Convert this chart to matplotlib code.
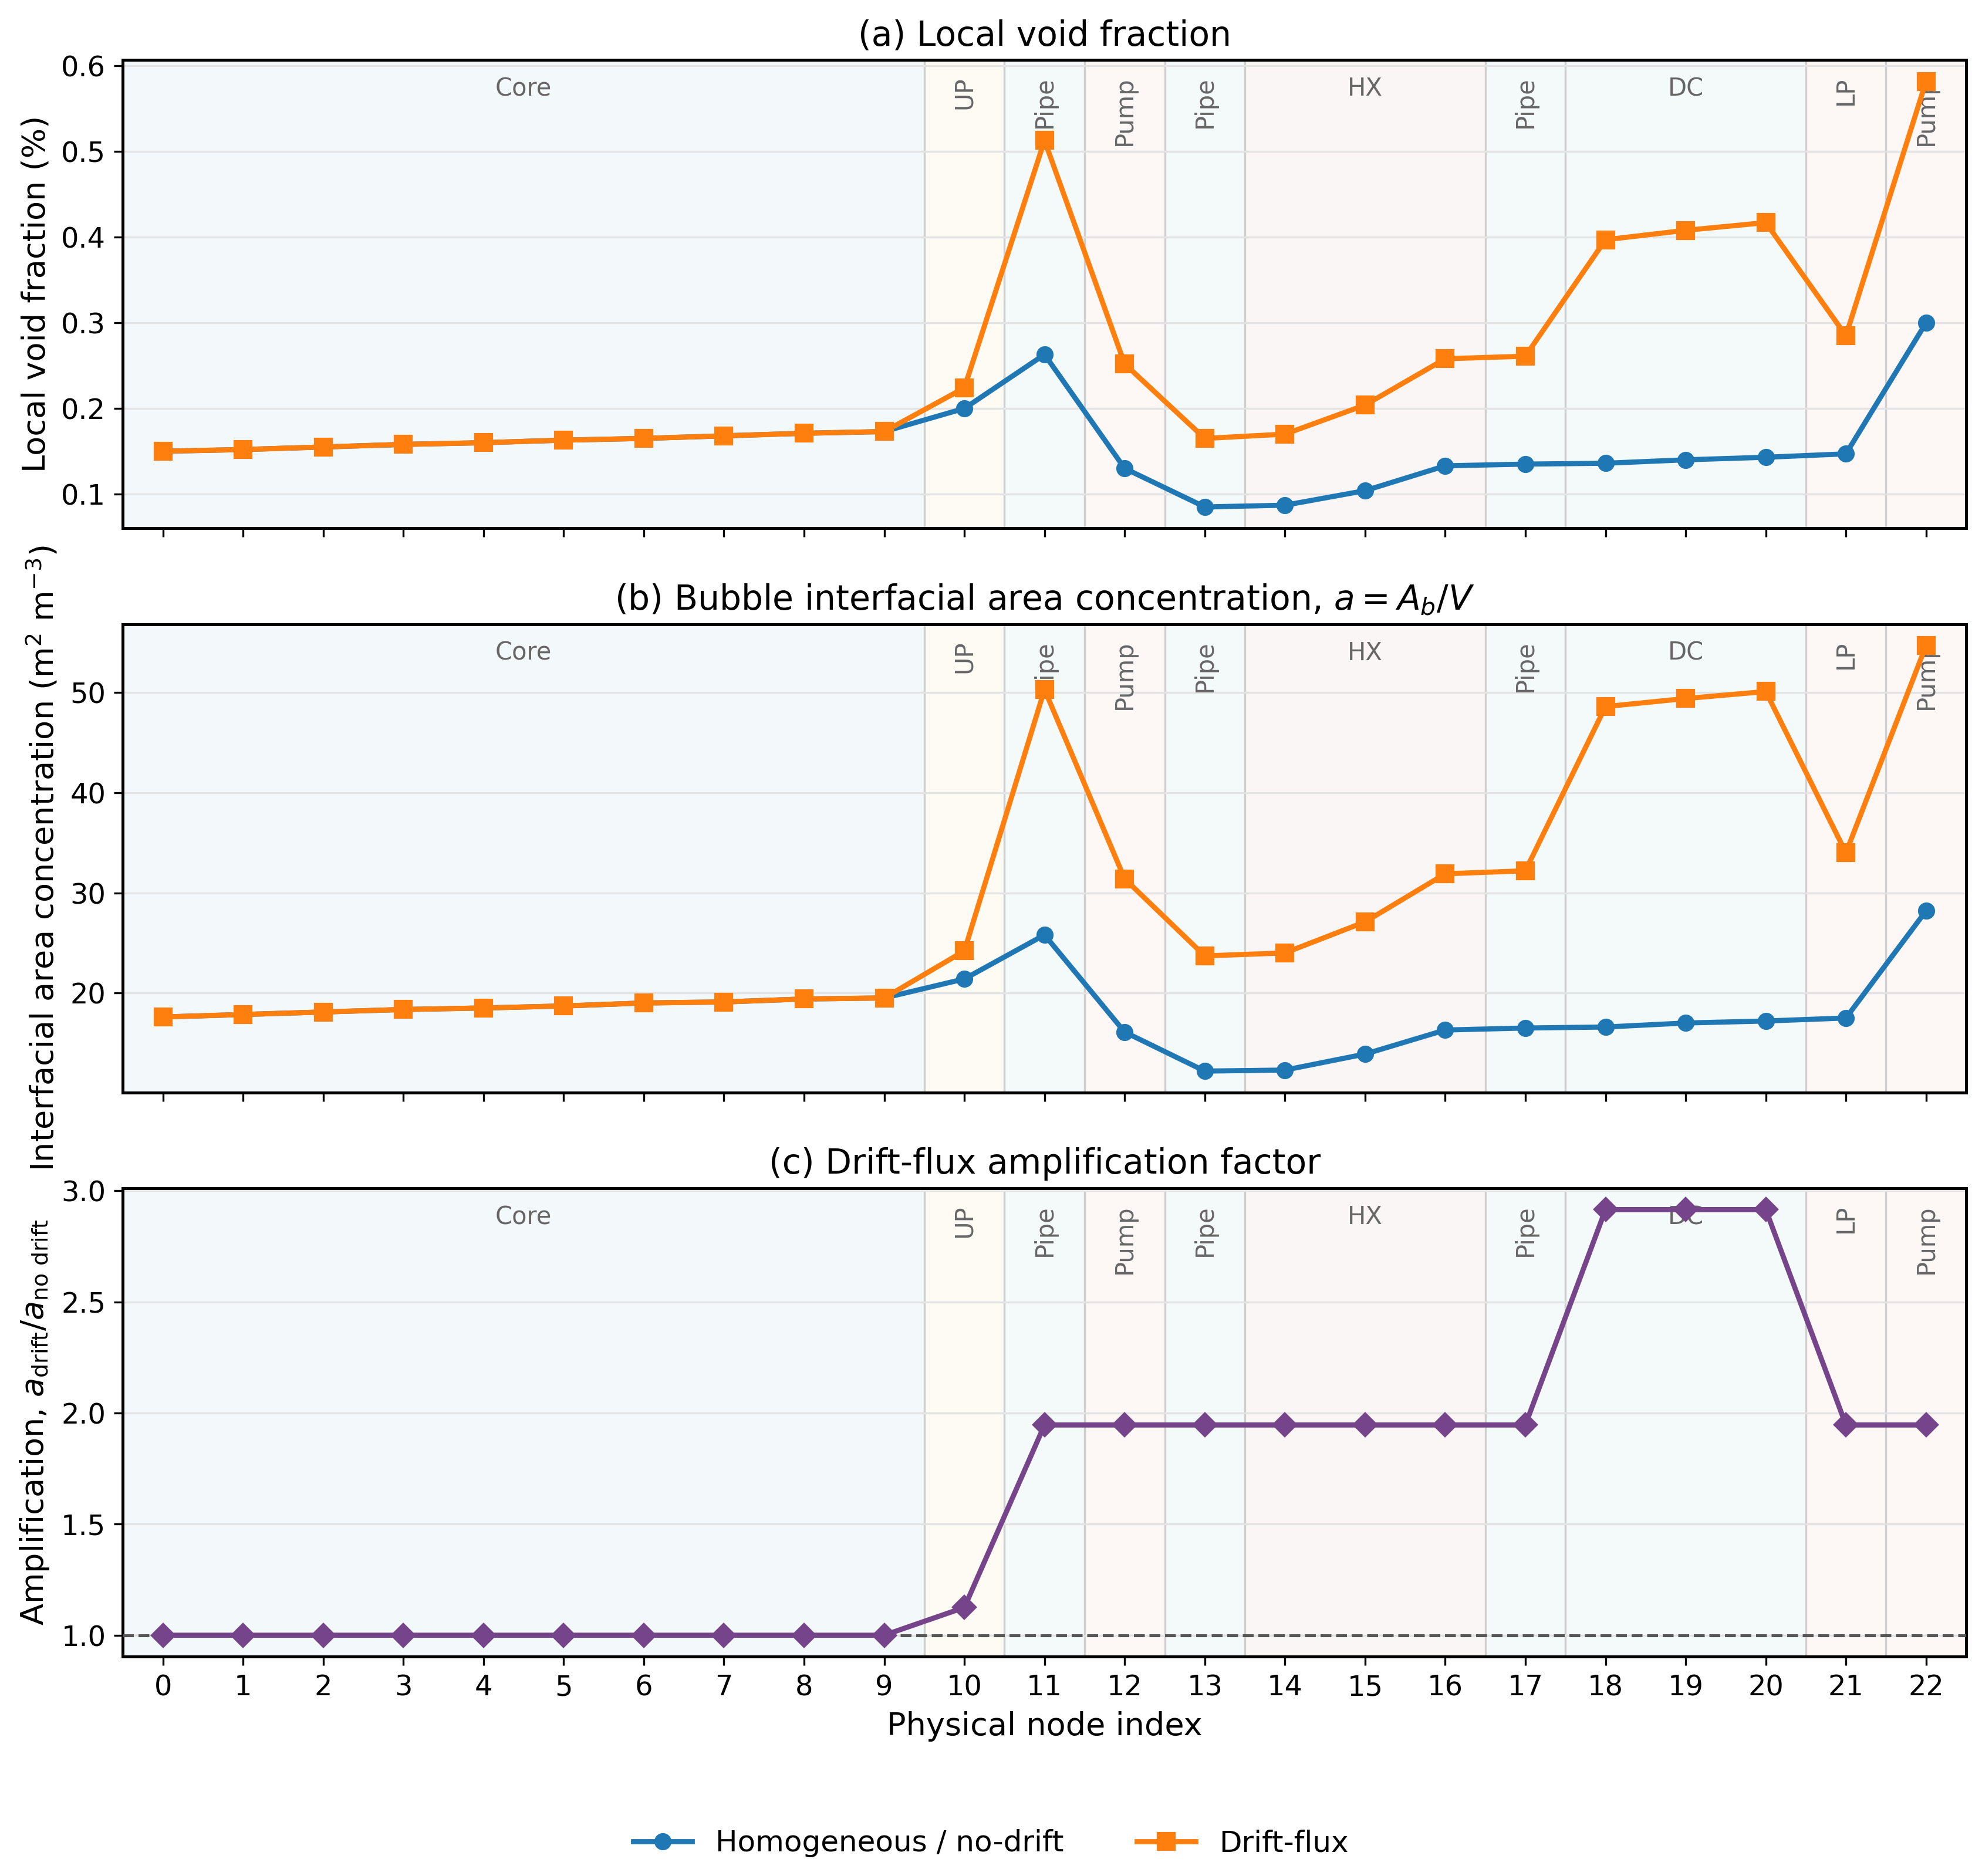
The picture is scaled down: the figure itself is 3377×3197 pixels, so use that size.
import numpy as np
import matplotlib
matplotlib.use("Agg")
from matplotlib import pyplot as plt
from matplotlib.ticker import MultipleLocator, FormatStrFormatter
from matplotlib.transforms import blended_transform_factory

# node index 0..22
nodes = list(range(23))

# (a) lokalni void fraction
void_homog = [0.150, 0.152, 0.155, 0.158, 0.160, 0.163, 0.165, 0.168, 0.171, 0.173,
              0.200, 0.263, 0.130, 0.085, 0.087, 0.104, 0.133, 0.135, 0.136, 0.140,
              0.143, 0.147, 0.300]
void_drift = [0.150, 0.152, 0.155, 0.158, 0.160, 0.163, 0.165, 0.168, 0.171, 0.173,
              0.224, 0.513, 0.252, 0.165, 0.170, 0.204, 0.258, 0.261, 0.397, 0.408,
              0.417, 0.285, 0.582]

# (b) interfacial area concentration
iac_homog = [17.6, 17.85, 18.1, 18.35, 18.5, 18.7, 19.0, 19.1, 19.4, 19.5,
             21.4, 25.8, 16.1, 12.2, 12.3, 13.9, 16.3, 16.5, 16.6, 17.0,
             17.2, 17.5, 28.2]
iac_drift = [17.6, 17.85, 18.1, 18.35, 18.5, 18.7, 19.0, 19.1, 19.4, 19.5,
             24.2, 50.3, 31.4, 23.7, 24.0, 27.1, 31.9, 32.2, 48.6, 49.4,
             50.1, 34.0, 54.7]

# (c) amplification factor
amplif = [1.0, 1.0, 1.0, 1.0, 1.0, 1.0, 1.0, 1.0, 1.0, 1.0,
          1.125, 1.946, 1.946, 1.946, 1.946, 1.946, 1.946, 1.946, 2.915, 2.915,
          2.915, 1.946, 1.946]

# regije petlje: (ime, prvi node, zadnji node)
region_names = ["Core", "UP", "Pipe", "Pump", "Pipe", "HX", "Pipe", "DC", "LP", "Pump"]
region_start = [0, 10, 11, 12, 13, 14, 17, 18, 21, 22]
region_end = [9, 10, 11, 12, 13, 16, 17, 20, 21, 22]

region_colors = {
    "Core": "#1f77b4",
    "UP": "#e9b83a",
    "Pipe": "#2a8f8f",
    "Pump": "#d9694f",
    "HX": "#c06060",
    "DC": "#2a9d9d",
    "LP": "#d9694f",
}

C_HOM = "#1f77b4"
C_DRIFT = "#ff7f0e"
C_AMP = "#76448a"

plt.rcParams['font.family'] = ['DejaVu Sans']
plt.rcParams['axes.linewidth'] = 1.2

fig, axes = plt.subplots(3, 1, figsize=(3377 / 300, 3197 / 300), dpi=300, sharex=True)
fig.subplots_adjust(left=0.062, right=0.992, top=0.968, bottom=0.117, hspace=0.205)


def nacrtaj_regije(ax):
    trans = blended_transform_factory(ax.transData, ax.transAxes)
    for ime, s, e in zip(region_names, region_start, region_end):
        ax.axvspan(s - 0.5, e + 0.5, color=region_colors[ime], alpha=0.05, lw=0, zorder=0)
        if s > 0:
            ax.axvline(s - 0.5, color="#cfcfcf", lw=0.8, zorder=0.5)
        sredina = (s + e) / 2
        if e > s:
            ax.text(sredina, 0.965, ime, transform=trans, ha="center", va="top",
                    fontsize=10, color="#666666", zorder=1)
        else:
            ax.text(sredina, 0.965, ime, transform=trans, ha="center", va="top",
                    rotation=90, fontsize=10, color="#666666", zorder=1)
    ax.grid(axis="y", color="#e3e3e3", lw=0.8, zorder=0.6)
    ax.set_axisbelow(True)
    ax.set_xlim(-0.5, 22.5)
    ax.tick_params(labelsize=11.5)


ax = axes[0]
nacrtaj_regije(ax)
l1, = ax.plot(nodes, void_homog, marker="o", ms=6, lw=2.1, color=C_HOM,
              label="Homogeneous / no-drift", zorder=3)
l2, = ax.plot(nodes, void_drift, marker="s", ms=6.5, lw=2.1, color=C_DRIFT,
              label="Drift-flux", zorder=3)
ax.set_ylabel("Local void fraction (%)", fontsize=13)
ax.set_title("(a) Local void fraction", fontsize=14)

ax = axes[1]
nacrtaj_regije(ax)
ax.plot(nodes, iac_homog, marker="o", ms=6, lw=2.1, color=C_HOM, zorder=3)
ax.plot(nodes, iac_drift, marker="s", ms=6.5, lw=2.1, color=C_DRIFT, zorder=3)
ax.set_ylabel("Interfacial area concentration (m$^2$ m$^{-3}$)", fontsize=13)
ax.set_title("(b) Bubble interfacial area concentration, $a = A_b/V$", fontsize=14)

ax = axes[2]
nacrtaj_regije(ax)
ax.axhline(1.0, color="#555555", lw=1.2, ls="--", zorder=2.8)
ax.plot(nodes, amplif, marker="D", ms=6.5, lw=2.1, color=C_AMP, zorder=3)
ax.yaxis.set_major_locator(MultipleLocator(0.5))
ax.yaxis.set_major_formatter(FormatStrFormatter("%.1f"))
ax.set_ylabel(r"Amplification, $a_{\rm drift}/a_{\rm no\ drift}$", fontsize=13)
ax.set_title("(c) Drift-flux amplification factor", fontsize=14)
ax.set_xticks(nodes)
ax.set_xlabel("Physical node index", fontsize=13)

fig.legend(handles=[l1, l2], loc="center", bbox_to_anchor=(0.5, 0.0175),
           ncol=2, frameon=False, fontsize=12, columnspacing=2.5)

fig.savefig("out.png", dpi=300)
